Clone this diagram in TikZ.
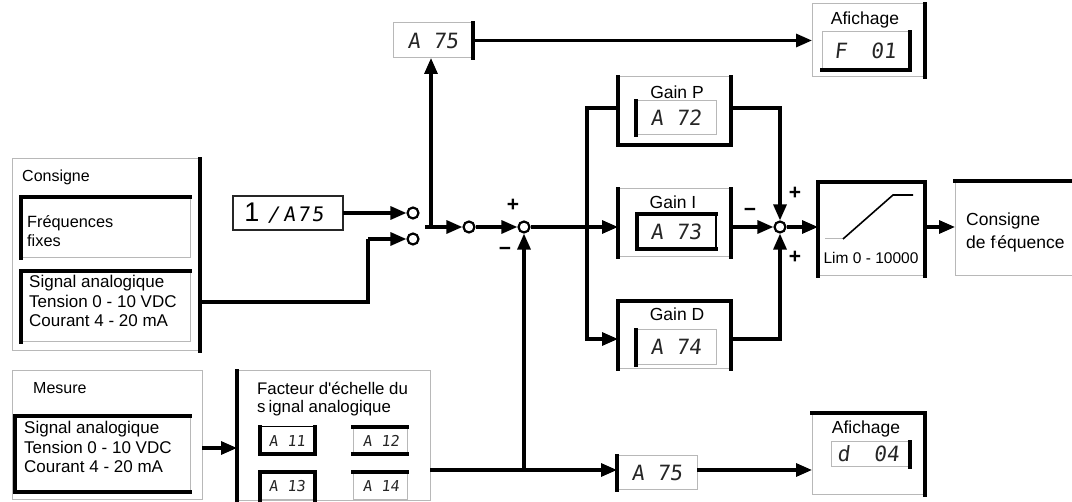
\documentclass[tikz,border=0pt]{standalone}
\usepackage{fontspec}
\setmainfont{Liberation Sans}
\newfontfamily\segf[FakeSlant=0.12]{DejaVu Sans Mono}
\usetikzlibrary{arrows.meta,calc}
\definecolor{boxgray}{gray}{0.72}
\tikzset{
 box/.style={draw=boxgray,line width=1pt,inner sep=0pt,outer sep=0pt,anchor=north west},
 thk/.style={line width=3.4pt,line cap=rect},
 ln/.style={line width=3.2pt},
 ar/.style={line width=3.2pt,-{Triangle[length=16pt,width=13pt]}},
 jn/.style={circle,draw,fill=white,line width=2.2pt,minimum size=11pt,inner sep=0pt},
 lbl/.style={font=\fontsize{17}{19.5}\selectfont,inner sep=0pt,anchor=west,align=left},
 ttl/.style={font=\fontsize{17.5}{20}\selectfont,inner sep=0pt},
 seg/.style={font=\segf\fontsize{21}{21}\selectfont,inner sep=0pt,text=black!85},
 segs/.style={font=\segf\fontsize{15}{15}\selectfont,inner sep=0pt,text=black!85},
 pm/.style={font=\bfseries\fontsize{21}{21}\selectfont,inner sep=0pt},
}
\newcommand\mkbox[5]{%
  \pgfmathsetmacro\bw{#4-#2}\pgfmathsetmacro\bh{#5-#3}%
  \node[box,minimum width=\bw pt,minimum height=\bh pt] (#1) at (#2,#3) {};}
\begin{document}
\begin{tikzpicture}[x=1pt,y=-1pt]
\useasboundingbox[fill=white] (0,0) rectangle (1072,502);

% ---------- Consigne ----------
\mkbox{cons}{12}{159}{200}{351}
\draw[thk] (cons.north east) -- (cons.south east);
\node[lbl,font=\fontsize{16}{18}\selectfont] (tcons) at (22,177) {Consigne};
\mkbox{freq}{21}{197}{190}{258}
\draw[thk] (freq.south west) -- (freq.north west) -- (freq.north east);
\node[lbl,font=\fontsize{16.3}{18.5}\selectfont] (tfreq) at (27,231) {Fréquences\\fixes};
\mkbox{sig}{21}{271}{190}{342}
\draw[thk] (sig.south west) -- (sig.north west) -- (sig.north east);
\node[lbl] (tsig) at (29,301) {Signal analogique\\Tension 0 - 10 VDC\\Courant 4 - 20 mA};
\coordinate (sigout) at (200,302);

% ---------- 1/A75 ----------
\mkbox{inv}{233}{196}{343}{230}
\draw[black!85,line width=1.2pt] (inv.north west) rectangle (inv.south east);
\node[inner sep=0pt] (tinv) at (284,213) {{\fontsize{27}{27}\selectfont 1}\hspace{8pt}{\segf\fontsize{20}{20}\selectfont /\hspace{4pt}A\hspace{2pt}7\hspace{2pt}5}};

% ---------- switch ----------
\node[jn] (c1) at (413,213) {};
\node[jn] (c2) at (413,239) {};
\node[jn] (c3) at (469,227) {};
\node[jn] (s1) at (524,227) {};
\coordinate (k1) at (368,239);
\coordinate (sw) at (425,227);
\coordinate (jv) at (431,227);
\draw[ar] (inv) -- (c1);
\draw[ln] (sigout) -| (k1);
\draw[ar] (k1) -- (c2);
\draw[ar] (sw) -- (c3);
\draw[ar] (c3) -- (s1);
\node[pm] (p1) at (513,205) {+};
\node[pm] (m1) at (505,251) {−};

% ---------- A 75 top & Affichage F01 ----------
\mkbox{a75t}{393}{23}{473}{58}
\draw[thk] (a75t.north east) -- (a75t.south east);
\node[seg] (ta75t) at (433,41) {A 75};
\draw[ar] (jv) -- (jv |- a75t.south);
\mkbox{aff1}{812}{4}{925}{77}
\draw[thk] (aff1.north east) -- (aff1.south east);
\node[ttl] (taff1) at (865,20) {Afichage};
\mkbox{f01}{822}{32}{910}{70}
\draw[thk] (f01.north east) -- (f01.south east) -- (f01.south west);
\node[seg] (tf01) at (865,51) {F\hspace{24pt}01};
\draw[ar] (a75t.east) -- (a75t.east -| aff1.west);

% ---------- Gains ----------
\coordinate (br) at (587,227);
\mkbox{gp}{618}{77}{731}{145}
\draw[thk] (gp.north west) -- (gp.south west) -- (gp.south east) -- (gp.north east);
\node[ttl] (tgp) at (677,92) {Gain P};
\mkbox{gpi}{636}{101}{716}{135}
\draw[thk] (gpi.north west) -- (gpi.south west);
\node[seg] (tgpi) at (676,118) {A 72};

\mkbox{gi}{618}{189}{731}{257}
\draw[thk] (gi.north west) -- (gi.south west);
\draw[thk] (gi.north east) -- (gi.south east);
\node[ttl] (tgi) at (673,202) {Gain I};
\mkbox{gii}{637}{214}{716}{249}
\draw[black,line width=1.2pt] (gii.north east) -- (gii.south east);
\draw[thk] (gii.north east) -- (gii.north west) -- (gii.south west) -- (gii.south east);
\node[seg] (tgii) at (676,232) {A 73};

\mkbox{gd}{618}{301}{731}{369}
\draw[thk] (gd.south west) -- (gd.north west) -- (gd.north east) -- (gd.south east);
\node[ttl] (tgd) at (677,314) {Gain D};
\mkbox{gdi}{636}{330}{716}{365}
\draw[thk] (gdi.north west) -- (gdi.south west);
\node[seg] (tgdi) at (676,347) {A 74};

\node[jn] (s2) at (780,227) {};
\draw[ln] (s1) -- (br);
\draw[ar] (br) -- (br -| gi.west);
\draw[ln] (br) |- ($(gp.north west)+(0,31)$);
\draw[ar] (br) |- ($(gd.north west)+(0,38)$);
\draw[ar] ($(gp.north east)+(0,31)$) -| (s2.north);
\draw[ar] (s2 -| gi.east) -- (s2);
\draw[ar] ($(gd.north east)+(0,38)$) -| (s2.south);
\node[pm] (p2) at (795,193) {+};
\node[pm] (m2) at (750,212) {−};
\node[pm] (p3) at (795,257) {+};

% ---------- Limiter & output ----------
\mkbox{lim}{818}{182}{925}{276}
\draw[thk] (lim.south west) -- (lim.north west) -- (lim.north east) -- (lim.south east);
\draw[boxgray,line width=1pt] (825,239) -- (843,239);
\draw[line width=1.6pt] (843,239) -- (893,195) -- (913,195);
\node[ttl,font=\fontsize{15.5}{17}\selectfont] (tlim) at (871,258) {Lim 0 - 10000};
\mkbox{out}{955}{181}{1074}{276}
\draw[thk] (out.north west) -- (out.north east);
\node[lbl,font=\fontsize{17.5}{23}\selectfont] (tout) at (966,232) {Consigne\\de f\raisebox{4pt}{\fontsize{6}{6}\selectfont\textbf{·}}équence};
\draw[ar] (s2) -- (s2 -| lim.west);
\draw[ar] (s2 -| lim.east) -- (s2 -| out.west);

% ---------- Mesure ----------
\mkbox{mes}{12}{371}{202}{500}
\node[lbl,font=\fontsize{16}{18}\selectfont] (tmes) at (33,388) {Mesure};
\mkbox{meso}{15}{416}{190}{492}
\draw[thk] (meso.north east) -- (meso.north west) -- (meso.south west) -- (meso.south east);
\node[lbl] (tmeso) at (24,447) {Signal analogique\\Tension 0 - 10 VDC\\Courant 4 - 20 mA};
\coordinate (mo) at (202,448);

% ---------- Facteur ----------
\mkbox{fac}{237}{371}{430}{501}
\draw[thk] (fac.north west) -- (fac.south west);
\node[lbl,font=\fontsize{16.8}{19}\selectfont] (tfac1) at (257,388) {Facteur d\textquotesingle échelle du};
\node[lbl,font=\fontsize{16.8}{19}\selectfont] (tfac2) at (257,408) {s\hspace{3pt}ignal analogique};
\draw[ar] (mo) -- (mo -| fac.west);

\mkbox{a11}{260}{427}{315}{454}
\draw[black,line width=1pt] (a11.north west) -- (a11.north east);
\draw[thk] (a11.north west) -- (a11.south west) -- (a11.south east) -- (a11.north east);
\node[segs] (ta11) at (287,441) {A 11};
\mkbox{a12}{353}{427}{407}{454}
\draw[thk] (a12.north west) -- (a12.north east);
\draw[thk] (a12.south west) -- (a12.south east);
\node[segs] (ta12) at (381,441) {A 12};
\mkbox{a13}{260}{472}{315}{500}
\draw[thk] (a13.south west) -- (a13.north west) -- (a13.north east) -- (a13.south east);
\node[segs] (ta13) at (287,486) {A 13};
\mkbox{a14}{353}{472}{407}{500}
\draw[thk] (a14.north west) -- (a14.north east);
\node[segs] (ta14) at (381,486) {A 14};

% ---------- A 75 bottom & Affichage d04 ----------
\coordinate (fo) at (430,470);
\coordinate (jb) at (524,470);
\mkbox{a75b}{617}{456}{697}{490}
\draw[thk] (a75b.north west) -- (a75b.south west);
\node[seg] (ta75b) at (657,473) {A 75};
\draw[ar] (fo) -- (fo -| a75b.west);
\draw[ar] (jb) -- (s1);
\mkbox{aff2}{812}{413}{925}{495}
\draw[thk] (aff2.north west) -- (aff2.north east) -- (aff2.south east);
\node[ttl] (taff2) at (866,429) {Afichage};
\mkbox{d04}{831}{442}{910}{467}
\draw[thk] (d04.north east) -- (d04.south east);
\node[seg] (td04) at (868,454) {d\hspace{24pt}04};
\draw[ar] (fo -| a75b.east) -- (fo -| aff2.west);
\end{tikzpicture}
\end{document}
